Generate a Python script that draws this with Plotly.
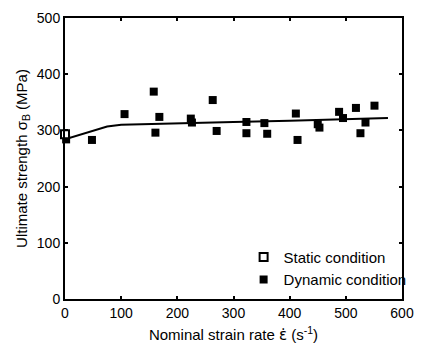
import plotly.graph_objects as go

# Static condition
static_x = [0]
static_y = [293]

# Dynamic condition
dyn_x = [2, 48, 106, 158, 161, 168, 224, 226, 263, 270, 323, 323, 355, 360,
         411, 414, 450, 453, 488, 495, 518, 526, 535, 551]
dyn_y = [284, 283, 329, 369, 296, 324, 321, 314, 354, 299, 315, 295, 313, 294,
         330, 283, 311, 305, 333, 322, 340, 295, 314, 344]

# Fitted curve
fit_x = [0, 75, 100, 200, 300, 400, 500, 575]
fit_y = [284, 307, 310, 313, 315, 317, 320, 322]

x_ticks = [0, 100, 200, 300, 400, 500, 600]
y_ticks = [0, 100, 200, 300, 400, 500]

FONT = "Liberation Sans, Arial, sans-serif"

fig = go.Figure()
fig.add_trace(go.Scatter(x=fit_x, y=fit_y, mode="lines",
                         line=dict(color="black", width=2), showlegend=False,
                         cliponaxis=False))
fig.add_trace(go.Scatter(x=dyn_x, y=dyn_y, mode="markers", name="Dynamic condition",
                         marker=dict(symbol="square", size=8, color="black",
                                     line=dict(width=0)),
                         legendrank=2, cliponaxis=False))
fig.add_trace(go.Scatter(x=static_x, y=static_y, mode="markers", name="Static condition",
                         marker=dict(symbol="square", size=8, color="white",
                                     line=dict(color="black", width=2)),
                         legendrank=1, cliponaxis=False))

axis_common = dict(showline=True, linecolor="black", linewidth=2, mirror="ticks",
                   ticks="inside", ticklen=3, tickwidth=1.5, tickcolor="black",
                   showgrid=False, zeroline=False,
                   tickfont=dict(family=FONT, size=14, color="black"))

fig.update_layout(
    width=424, height=354,
    margin=dict(l=65, r=17, t=10, b=55),
    paper_bgcolor="white", plot_bgcolor="white",
    font=dict(family=FONT, color="black"),
    xaxis=dict(range=[0, 600], tickvals=x_ticks,
               title=dict(text="Nominal strain rate <span style='font-family:DejaVu Sans'>ε̇</span> (s<sup>-1</sup>)",
                          font=dict(family=FONT, size=15), standoff=10),
               **axis_common),
    yaxis=dict(range=[0, 500], tickvals=y_ticks,
               title=dict(text="Ultimate strength σ<sub>B</sub> (MPa)",
                          font=dict(family=FONT, size=15), standoff=6),
               **axis_common),
    legend=dict(x=0.53, y=0.207, xanchor="left", yanchor="top",
                bgcolor="rgba(0,0,0,0)", font=dict(family=FONT, size=15),
                itemwidth=30, tracegroupgap=0),
)

fig.write_html("out.html")
